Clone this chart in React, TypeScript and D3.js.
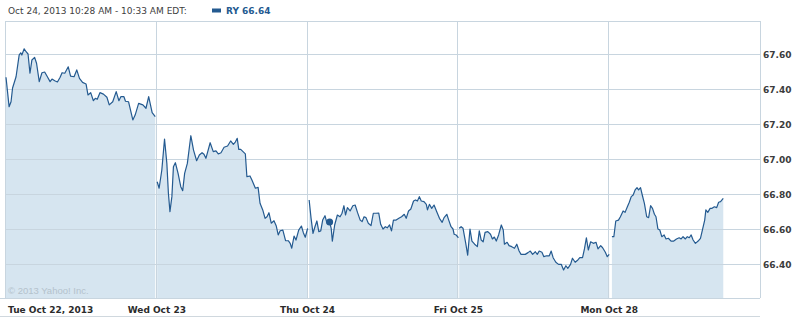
import React from "react";
import * as d3 from "d3";

// [minutes since 9:30 open, price]
const tue: [number, number][] = [[0,67.467],[8,67.299],[13,67.327],[17,67.406],[26,67.470],[34,67.594],[38,67.607],[41,67.594],[47,67.630],[52,67.613],[57,67.600],[62,67.490],[67,67.566],[74,67.581],[79,67.547],[86,67.442],[93,67.493],[100,67.497],[107,67.470],[114,67.442],[119,67.457],[126,67.447],[133,67.440],[140,67.467],[145,67.493],[152,67.490],[161,67.527],[167,67.474],[176,67.470],[183,67.509],[190,67.461],[198,67.438],[207,67.429],[212,67.366],[219,67.379],[226,67.333],[231,67.347],[236,67.341],[243,67.379],[252,67.371],[261,67.353],[267,67.309],[276,67.327],[285,67.385],[292,67.333],[297,67.356],[305,67.356],[309,67.330],[317,67.327],[328,67.223],[334,67.251],[343,67.318],[354,67.309],[362,67.290],[369,67.356],[378,67.265],[386,67.242]];
const wed: [number, number][] = [[1,66.870],[6,66.833],[13,66.937],[20,67.114],[26,66.975],[30,66.804],[34,66.699],[39,66.785],[43,66.956],[48,66.979],[55,66.918],[62,66.842],[67,66.819],[72,66.918],[79,66.975],[88,67.133],[95,67.051],[103,66.990],[110,67.023],[117,67.036],[122,67.027],[127,67.004],[138,67.093],[146,67.042],[153,67.046],[159,67.029],[166,67.036],[174,67.067],[183,67.074],[191,67.103],[198,67.084],[203,67.097],[208,67.118],[212,67.055],[217,67.055],[229,67.029],[233,66.899],[241,66.903],[246,66.880],[255,66.833],[262,66.838],[267,66.747],[274,66.709],[280,66.661],[285,66.670],[290,66.693],[296,66.633],[303,66.647],[309,66.617],[314,66.566],[319,66.590],[326,66.594],[333,66.533],[340,66.533],[345,66.518],[349,66.490],[355,66.560],[360,66.537],[367,66.594],[374,66.617],[379,66.579],[384,66.553],[390,66.604]];
const thu: [number, number][] = [[4,66.766],[9,66.661],[14,66.575],[19,66.613],[24,66.646],[29,66.585],[34,66.589],[39,66.651],[45,66.676],[50,66.633],[57,66.640],[61,66.604],[64,66.531],[70,66.623],[77,66.680],[84,66.670],[89,66.690],[94,66.733],[98,66.680],[103,66.722],[110,66.703],[117,66.733],[123,66.737],[129,66.695],[136,66.651],[141,66.642],[146,66.670],[151,66.665],[157,66.633],[164,66.619],[170,66.690],[177,66.690],[184,66.691],[189,66.627],[195,66.600],[201,66.613],[206,66.607],[212,66.623],[217,66.589],[222,66.651],[229,66.651],[236,66.661],[243,66.670],[250,66.684],[255,66.661],[261,66.703],[267,66.714],[274,66.760],[279,66.766],[284,66.760],[289,66.785],[294,66.760],[301,66.756],[307,66.741],[310,66.709],[315,66.741],[321,66.718],[327,66.737],[334,66.699],[341,66.661],[348,66.638],[353,66.665],[360,66.684],[365,66.651],[371,66.613],[376,66.600],[379,66.570],[384,66.566],[390,66.550]];
const fri: [number, number][] = [[2,66.604],[7,66.613],[12,66.604],[19,66.518],[24,66.451],[30,66.600],[35,66.531],[42,66.513],[49,66.499],[54,66.589],[59,66.537],[64,66.527],[69,66.581],[76,66.585],[83,66.570],[88,66.543],[93,66.554],[98,66.531],[104,66.566],[111,66.623],[116,66.594],[119,66.513],[126,66.524],[131,66.505],[138,66.499],[145,66.490],[151,66.513],[157,66.474],[162,66.455],[173,66.455],[180,66.465],[186,66.474],[192,66.455],[199,66.470],[204,66.455],[209,66.474],[216,66.467],[221,66.442],[228,66.447],[235,66.447],[240,66.474],[245,66.436],[252,66.410],[259,66.398],[266,66.398],[272,66.366],[278,66.390],[283,66.375],[290,66.398],[295,66.433],[302,66.410],[309,66.423],[314,66.436],[321,66.436],[326,66.486],[331,66.550],[336,66.480],[342,66.527],[349,66.518],[356,66.524],[361,66.486],[368,66.505],[373,66.493],[380,66.467],[385,66.442],[390,66.455]];
const mon: [number, number][] = [[7,66.556],[12,66.556],[17,66.646],[24,66.651],[29,66.670],[36,66.703],[41,66.695],[47,66.727],[52,66.753],[57,66.785],[62,66.794],[67,66.823],[72,66.836],[76,66.823],[81,66.836],[86,66.790],[91,66.747],[97,66.670],[102,66.665],[107,66.733],[112,66.718],[117,66.684],[121,66.670],[126,66.600],[131,66.594],[136,66.556],[142,66.566],[147,66.543],[153,66.547],[160,66.531],[167,66.531],[174,66.543],[181,66.550],[186,66.543],[191,66.556],[197,66.543],[202,66.556],[207,66.550],[212,66.566],[217,66.537],[223,66.518],[230,66.531],[236,66.547],[241,66.594],[247,66.651],[250,66.709],[255,66.695],[261,66.718],[266,66.718],[272,66.727],[278,66.722],[283,66.753],[288,66.756],[295,66.775]];

const days = [tue, wed, thu, fri, mon];
const dayLabels = ["Tue Oct 22, 2013", "Wed Oct 23", "Thu Oct 24", "Fri Oct 25", "Mon Oct 28"];
const yTicks = [66.4, 66.6, 66.8, 67.0, 67.2, 67.4, 67.6];
const hoverDay = 2;
const hoverMinute = 57;
const hoverPrice = 66.64;
const headerText = "Oct 24, 2013 10:28 AM - 10:33 AM EDT:";
const legendText = "RY 66.64";
const SESSION = 390;

const W = 796, H = 317;
const LEFT = 6, RIGHT = 760, TOP = 21, BOTTOM = 298;
const LINE = "#245a90";
const FILL = "#d6e5f0";
const GRID = "#c8d5df";
const FONT = "'DejaVu Sans', Verdana, sans-serif";

export default function App() {
  const x = d3.scaleLinear().domain([0, 5]).range([LEFT, RIGHT]);
  const y = d3.scaleLinear().domain([66.4, 67.6]).range([264, 54]);
  const px = (d: number, m: number) => x(d + m / SESSION);

  const line = (d: number) =>
    d3.line<[number, number]>().x((p) => px(d, p[0])).y((p) => y(p[1]));
  const area = (d: number) =>
    d3.area<[number, number]>().x((p) => px(d, p[0])).y0(BOTTOM).y1((p) => y(p[1]));

  return (
    <svg width={W} height={H} style={{ position: "absolute", left: 0, top: 0, background: "#fff" }}>
      {days.map((pts, d) => (
        <path key={"a" + d} d={area(d)(pts) || ""} fill={FILL} stroke="none" />
      ))}
      {yTicks.map((t) => (
        <line key={"h" + t} x1={LEFT} x2={RIGHT} y1={Math.round(y(t)) + 0.5} y2={Math.round(y(t)) + 0.5} stroke={GRID} strokeWidth={1} />
      ))}
      {[1, 2, 3, 4].map((d) => (
        <line key={"v" + d} x1={Math.round(x(d)) - 0.5} x2={Math.round(x(d)) - 0.5} y1={TOP} y2={BOTTOM} stroke={GRID} strokeWidth={1} />
      ))}
      {/* frame */}
      <line x1={LEFT} x2={RIGHT} y1={TOP + 0.5} y2={TOP + 0.5} stroke={GRID} />
      <line x1={LEFT - 0.5} x2={LEFT - 0.5} y1={TOP} y2={BOTTOM} stroke={GRID} />
      <line x1={RIGHT + 0.5} x2={RIGHT + 0.5} y1={TOP} y2={BOTTOM} stroke={GRID} />
      <line x1={0} x2={RIGHT} y1={BOTTOM + 0.5} y2={BOTTOM + 0.5} stroke={GRID} />
      <line x1={0} x2={RIGHT} y1={316.5} y2={316.5} stroke="#d0d8de" />
      {days.map((pts, d) => (
        <path key={"l" + d} d={line(d)(pts) || ""} fill="none" stroke={LINE} strokeWidth={1.2} strokeLinejoin="round" />
      ))}
      <circle cx={px(hoverDay, hoverMinute)} cy={y(hoverPrice)} r={3.5} fill={LINE} />
      {yTicks.map((t) => (
        <text key={"yt" + t} x={763} y={y(t) + 3.5} fontFamily={FONT} fontSize={9} fontWeight="bold" fill="#3c3c3c">
          {t.toFixed(2)}
        </text>
      ))}
      {dayLabels.map((s, d) => (
        <text key={"xl" + d} x={d === 0 ? 8 : x(d)} y={313} textAnchor={d === 0 ? "start" : "middle"} fontFamily={FONT} fontSize={9} fontWeight="bold" fill="#2b2b2b">
          {s}
        </text>
      ))}
      <text x={8} y={294} fontFamily="'Liberation Sans', Arial, sans-serif" fontSize={9.5} fill="#b4c2cc">
        © 2013 Yahoo! Inc.
      </text>
      <text x={8} y={14} fontFamily={FONT} fontSize={9} fill="#404040">
        {headerText}
      </text>
      <rect x={212} y={8.5} width={9} height={4} fill={LINE} />
      <text x={226} y={14} fontFamily={FONT} fontSize={9} fontWeight="bold" fill={LINE}>
        {legendText}
      </text>
    </svg>
  );
}
